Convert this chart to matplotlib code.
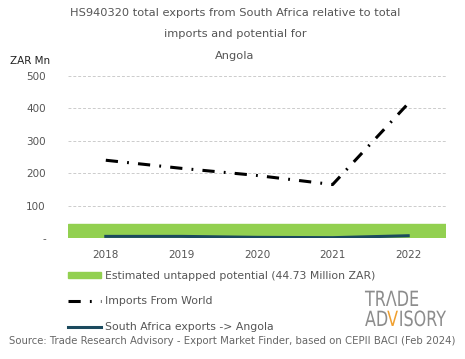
import matplotlib.pyplot as plt
from matplotlib.patches import Patch, PathPatch
from matplotlib.lines import Line2D
from matplotlib.textpath import TextPath
from matplotlib.font_manager import FontProperties
from matplotlib.transforms import Affine2D

years = ['2018', '2019', '2020', '2021', '2022']
imports_world = [240, 215, 193, 165, 415]
sa_exports = [5, 5, 2, 1, 7]
untapped = 44.73

plt.rcParams['font.family'] = ['DejaVu Sans']

fig = plt.figure(figsize=(4.65, 3.59), dpi=100)
ax = fig.add_axes([68/465, 1 - 238/359, 378/465, 162/359])

dash = (4, 3, 0.6, 3)
x = list(range(len(years)))
ax.axhspan(0, untapped, color='#92d050', zorder=1)
ax.plot(x, imports_world, color='black', lw=2.2, dashes=dash, zorder=3)
ax.plot(x, sa_exports, color='#1b4a5e', lw=2.2, zorder=3)

ax.set_xlim(-0.5, 4.5)
ax.set_ylim(0, 500)
ax.set_yticks([0, 100, 200, 300, 400, 500])
ax.set_yticklabels(['-', '100', '200', '300', '400', '500'])
ax.set_xticks(x)
ax.set_xticklabels(years)
ax.tick_params(length=0, labelsize=7.5, colors='#555555', pad=9)
ax.tick_params(axis='y', pad=16)
ax.grid(axis='y', color='#cccccc', ls=(0, (3, 2)), lw=0.7)
ax.set_axisbelow(True)
for s in ax.spines.values():
    s.set_visible(False)

tcol = '#555555'
fig.text(0.505, 1 - 13/359, 'HS940320 total exports from South Africa relative to total',
         ha='center', va='center', fontsize=8.2, color=tcol)
fig.text(0.505, 1 - 34/359, 'imports and potential for', ha='center', va='center',
         fontsize=8.2, color=tcol)
fig.text(0.505, 1 - 56/359, 'Angola', ha='center', va='center', fontsize=8.2, color=tcol)
fig.text(10/465, 1 - 61/359, 'ZAR Mn', ha='left', va='center', fontsize=7.5, color='#222222')

handles = [Patch(color='#92d050'),
           Line2D([], [], color='black', lw=2.2, dashes=dash),
           Line2D([], [], color='#1b4a5e', lw=2.2)]
labels = ['Estimated untapped potential (44.73 Million ZAR)', 'Imports From World',
          'South Africa exports -> Angola']
fig.legend(handles, labels, loc='upper left', bbox_to_anchor=(58/465, 1 - 261/359),
           frameon=False, fontsize=7.8, labelcolor=tcol, handlelength=3.1,
           handleheight=0.5, labelspacing=1.45, handletextpad=0.3)

# logo drawn as condensed text paths, in pixel coordinates
fp = FontProperties(family='DejaVu Sans')
def logo_text(s, x0, y0, color, sx=0.76, size=21):
    p = TextPath((0, 0), s, size=size, prop=fp)
    tr = Affine2D().scale(sx, 1).translate(x0, 359 - y0)
    fig.add_artist(PathPatch(tr.transform_path(p), color=color, lw=0,
                             transform=None))
    return p.get_extents().width * sx

logo_text('TR\u039bDE', 365, 306, '#8c8c8c')
w = logo_text('AD', 365, 326, '#8c8c8c')
wv = logo_text('V', 365 + w, 326, '#f0a030')
logo_text('ISORY', 365 + w + wv + 1, 326, '#8c8c8c')

fig.text(0.5, 1 - 341/359,
         'Source: Trade Research Advisory - Export Market Finder, based on CEPII BACI (Feb 2024)',
         ha='center', va='center', fontsize=7.3, color='#666666')

fig.savefig('out.png', dpi=100)
